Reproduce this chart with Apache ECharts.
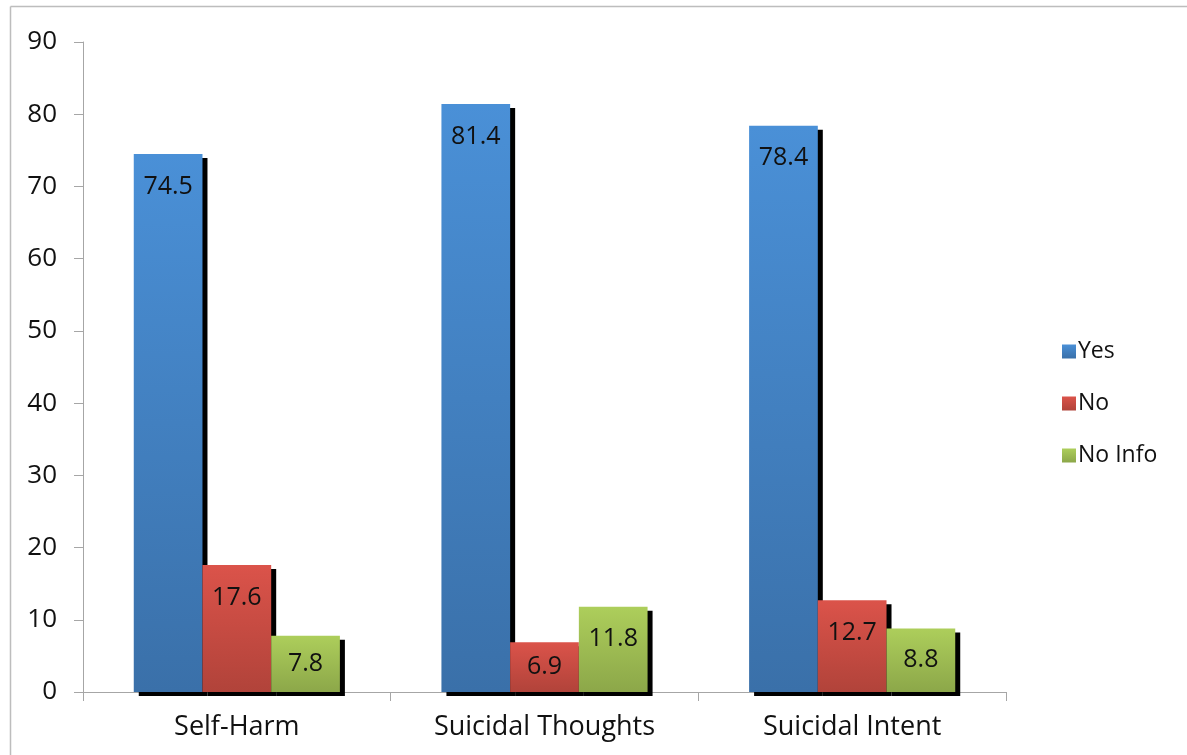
<!DOCTYPE html>
<html>
<head>
<meta charset="utf-8">
<script src="https://cdn.jsdelivr.net/npm/echarts@6/dist/echarts.min.js"></script>
<style>
  html, body { margin: 0; padding: 0; background: #fff; }
  #chart { width: 1187px; height: 755px; }
</style>
</head>
<body>
<div id="chart"></div>
<script>
// Categories and the three answer groups (percent)
const categories = ['Self-Harm', 'Suicidal Thoughts', 'Suicidal Intent'];
const seriesNames = ['Yes', 'No', 'No Info'];
const yesValues = [74.5, 81.4, 78.4];
const noValues = [17.6, 6.9, 12.7];
const noInfoValues = [7.8, 11.8, 8.8];

const FONT = 'Open Sans';

// Vertical gradients for each series, lighter at the top
function grad(top, bottom) {
  return new echarts.graphic.LinearGradient(0, 0, 0, 1, [
    { offset: 0, color: top },
    { offset: 1, color: bottom }
  ]);
}

const palettes = [
  ['#4A90D7', '#3A70A9'],
  ['#DB534A', '#B1433A'],
  ['#ADCE5B', '#8CA749']
];

function buildSeries(name, values, pal) {
  return {
    name: name,
    type: 'bar',
    barGap: '0%',
    barCategoryGap: '33%',
    itemStyle: {
      color: grad(pal[0], pal[1]),
      shadowColor: '#000',
      shadowBlur: 0,
      shadowOffsetX: 5,
      shadowOffsetY: 4
    },
    // short bars get their value centred, taller ones near the top
    data: values.map(v => ({
      value: v,
      label: v < 10 ? { position: 'inside' } : { position: 'insideTop', distance: 20 }
    })),
    label: {
      show: true,
      color: '#111',
      fontFamily: FONT,
      fontSize: 25
    }
  };
}

const chart = echarts.init(document.getElementById('chart'), null, { renderer: 'canvas' });

chart.setOption({
  animation: false,
  backgroundColor: '#fff',
  color: palettes.map(p => p[0]),
  grid: { left: 83, right: 181, top: 42, bottom: 63, containLabel: false },
  legend: {
    orient: 'vertical',
    left: 1057,
    top: 335,
    itemWidth: 14,
    itemHeight: 14,
    itemGap: 29,
    icon: 'rect',
    textStyle: { fontFamily: FONT, fontSize: 23, color: '#111', padding: [0, 0, 0, -3] },
    data: seriesNames.map((n, i) => ({ name: n, itemStyle: { color: grad(palettes[i][0], palettes[i][1]) } }))
  },
  xAxis: {
    type: 'category',
    data: categories,
    axisLine: { lineStyle: { color: '#a6a6a6', width: 1 } },
    axisTick: { show: true, length: 9, lineStyle: { color: '#a6a6a6' } },
    axisLabel: { fontFamily: FONT, fontSize: 27, color: '#111', margin: 22 }
  },
  yAxis: {
    type: 'value',
    min: 0,
    max: 90,
    interval: 10,
    splitLine: { show: false },
    axisLine: { show: true, lineStyle: { color: '#a6a6a6', width: 1 } },
    axisTick: { show: true, length: 9, lineStyle: { color: '#a6a6a6' } },
    axisLabel: { fontFamily: FONT, fontSize: 26, color: '#111', margin: 26 }
  },
  graphic: [
    { type: 'line', shape: { x1: 10.5, y1: 6.5, x2: 1187, y2: 6.5 }, style: { stroke: '#bdbdbd', lineWidth: 1.5 } },
    { type: 'line', shape: { x1: 10.5, y1: 6.5, x2: 10.5, y2: 755 }, style: { stroke: '#bdbdbd', lineWidth: 1.5 } }
  ],
  series: [
    buildSeries(seriesNames[0], yesValues, palettes[0]),
    buildSeries(seriesNames[1], noValues, palettes[1]),
    buildSeries(seriesNames[2], noInfoValues, palettes[2])
  ]
});
</script>
</body>
</html>
